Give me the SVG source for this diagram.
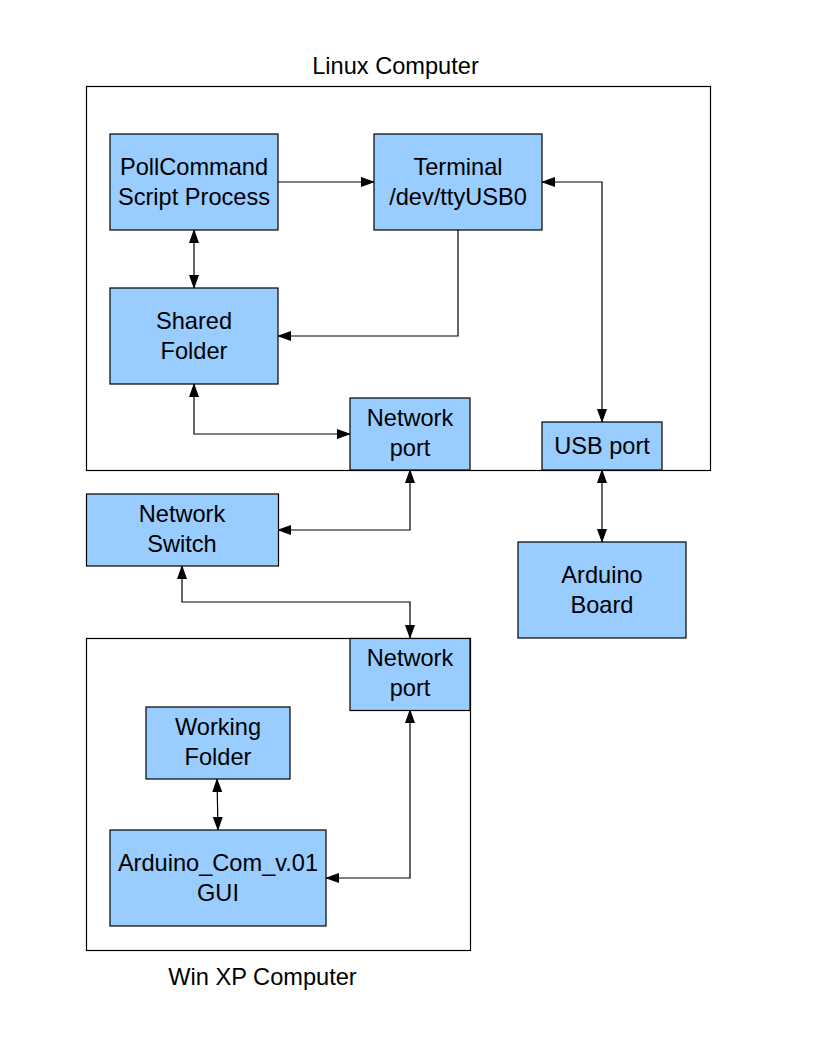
<svg xmlns="http://www.w3.org/2000/svg" width="816" height="1056" viewBox="0 0 816 1056">
<defs>
<style>
.container{fill:none;stroke:#000;stroke-width:1.2}
.node{fill:#99ccff;stroke:#000;stroke-width:1.2}
.label{font-family:"Liberation Sans",Arial,sans-serif;font-size:23.6px;fill:#000;text-anchor:middle}
.conn{fill:none;stroke:#000;stroke-width:1.2}
</style>
<marker id="ah" markerUnits="userSpaceOnUse" markerWidth="14" markerHeight="12" refX="13" refY="5" orient="auto-start-reverse" viewBox="0 0 14 10">
<path d="M0,0 L14,5 L0,10 z" fill="#000"/>
</marker>
</defs>
<rect width="816" height="1056" fill="#fff"/>

<g id="linux-computer">
<rect class="container" x="86.5" y="86.5" width="624" height="384"/>
<text class="label" x="395.5" y="74">Linux Computer</text>
</g>
<g id="winxp-computer">
<rect class="container" x="86.5" y="638.5" width="384" height="312"/>
<text class="label" x="262.5" y="985">Win XP Computer</text>
</g>

<g id="connectors">
<path class="conn" d="M278,182 H374" marker-end="url(#ah)"/>
<path class="conn" d="M194,230 V288" marker-start="url(#ah)" marker-end="url(#ah)"/>
<path class="conn" d="M458,230 V336 H278" marker-end="url(#ah)"/>
<path class="conn" d="M542,182 H602 V422" marker-start="url(#ah)" marker-end="url(#ah)"/>
<path class="conn" d="M194,384 V434 H350" marker-start="url(#ah)" marker-end="url(#ah)"/>
<path class="conn" d="M410,470 V530 H278" marker-start="url(#ah)" marker-end="url(#ah)"/>
<path class="conn" d="M602,470 V542" marker-start="url(#ah)" marker-end="url(#ah)"/>
<path class="conn" d="M182,566 V602 H410 V638" marker-start="url(#ah)" marker-end="url(#ah)"/>
<path class="conn" d="M410,710 V878 H326" marker-start="url(#ah)" marker-end="url(#ah)"/>
<path class="conn" d="M217,779 L218,830" marker-start="url(#ah)" marker-end="url(#ah)"/>
</g>

<g id="pollcommand">
<rect class="node" x="110" y="134" width="168" height="96"/>
<text class="label" x="194" y="175">PollCommand</text>
<text class="label" x="194" y="205">Script Process</text>
</g>
<g id="terminal">
<rect class="node" x="374" y="134" width="168" height="96"/>
<text class="label" x="458" y="175">Terminal</text>
<text class="label" x="458" y="205">/dev/ttyUSB0</text>
</g>
<g id="shared-folder">
<rect class="node" x="110" y="288" width="168" height="96"/>
<text class="label" x="194" y="329">Shared</text>
<text class="label" x="194" y="359">Folder</text>
</g>
<g id="linux-network-port">
<rect class="node" x="350" y="398" width="120" height="72"/>
<text class="label" x="410" y="426">Network</text>
<text class="label" x="410" y="456">port</text>
</g>
<g id="usb-port">
<rect class="node" x="542" y="422" width="120" height="48"/>
<text class="label" x="602" y="453.5">USB port</text>
</g>
<g id="network-switch">
<rect class="node" x="86.5" y="494" width="192" height="72"/>
<text class="label" x="182" y="522">Network</text>
<text class="label" x="182" y="552">Switch</text>
</g>
<g id="arduino-board">
<rect class="node" x="518" y="542" width="168" height="96"/>
<text class="label" x="602" y="583">Arduino</text>
<text class="label" x="602" y="613">Board</text>
</g>
<g id="winxp-network-port">
<rect class="node" x="350" y="638.5" width="120" height="72"/>
<text class="label" x="410" y="666">Network</text>
<text class="label" x="410" y="696">port</text>
</g>
<g id="working-folder">
<rect class="node" x="146" y="707" width="144" height="72"/>
<text class="label" x="218" y="735">Working</text>
<text class="label" x="218" y="765">Folder</text>
</g>
<g id="arduino-com-gui">
<rect class="node" x="110" y="830" width="216" height="96"/>
<text class="label" x="218" y="871">Arduino_Com_v.01</text>
<text class="label" x="218" y="901">GUI</text>
</g>
</svg>
